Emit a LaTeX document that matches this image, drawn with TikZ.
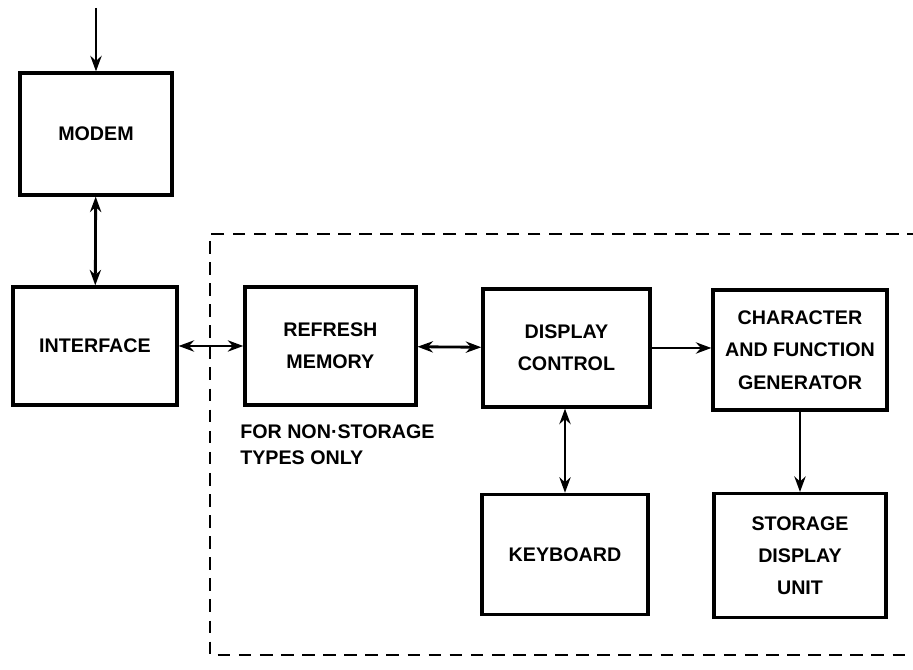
\documentclass[tikz,border=0pt]{standalone}
\usepackage{fontspec}
\setmainfont{Liberation Sans}
\usetikzlibrary{arrows.meta}
\tikzset{
  blk/.style={draw,line width=2.3pt,minimum width=4.2cm,minimum height=3cm,
    align=center,font=\bfseries\fontsize{14}{23}\selectfont},
  conn/.style={line width=2pt,-{Stealth[length=11pt,width=8pt]}},
  bconn/.style={line width=2pt,{Stealth[length=11pt,width=8pt]}-{Stealth[length=11pt,width=8pt]}},
  dbox/.style={line width=1.8pt,dash pattern=on 9pt off 6pt}
}
\begin{document}
\begin{tikzpicture}
\useasboundingbox (0,0) rectangle (22.825,16.75);
\node (modem) [blk,minimum width=3.8cm,minimum height=3.05cm] at (2.4,13.4) {MODEM};
\node (intf)  [blk,minimum width=4.1cm,minimum height=2.95cm] at (2.375,8.1) {INTERFACE};
\node (refr)  [blk,minimum width=4.275cm,minimum height=2.95cm] at (8.26,8.1) {REFRESH\\MEMORY};
\node (disp)  [blk,minimum width=4.175cm,minimum height=2.95cm] at (14.16,8.05) {DISPLAY\\CONTROL};
\node (chgen) [blk,minimum width=4.35cm] at (20.0,8.0) {CHARACTER\\AND FUNCTION\\GENERATOR};
\node (kbd)   [blk,minimum width=4.15cm] at (14.125,2.89) {KEYBOARD};
\node (stor)  [blk,minimum width=4.3cm,minimum height=3.1cm] at (20.0,2.86) {STORAGE\\DISPLAY\\UNIT};
\node (note)  [below right,inner sep=0pt,align=left,font=\bfseries\fontsize{14}{19}\selectfont]
  at (6.0,6.15) {FOR NON·STORAGE\\TYPES ONLY};
\coordinate (in) at (modem.north |- 0,16.55);
\draw[conn]  (in) -- (modem);
\draw[bconn] (modem) -- (intf);
\draw[bconn] (intf) -- (refr);
\draw[bconn] (refr) -- (disp);
\draw[conn]  (disp) -- (disp -| chgen.west);
\draw[bconn] (disp.south -| kbd.north) -- (kbd);
\draw[conn]  (chgen) -- (stor);
\draw[dbox] (23,10.9) -- (5.25,10.9) -- (5.25,0.375) -- (23,0.375);
\end{tikzpicture}
\end{document}
